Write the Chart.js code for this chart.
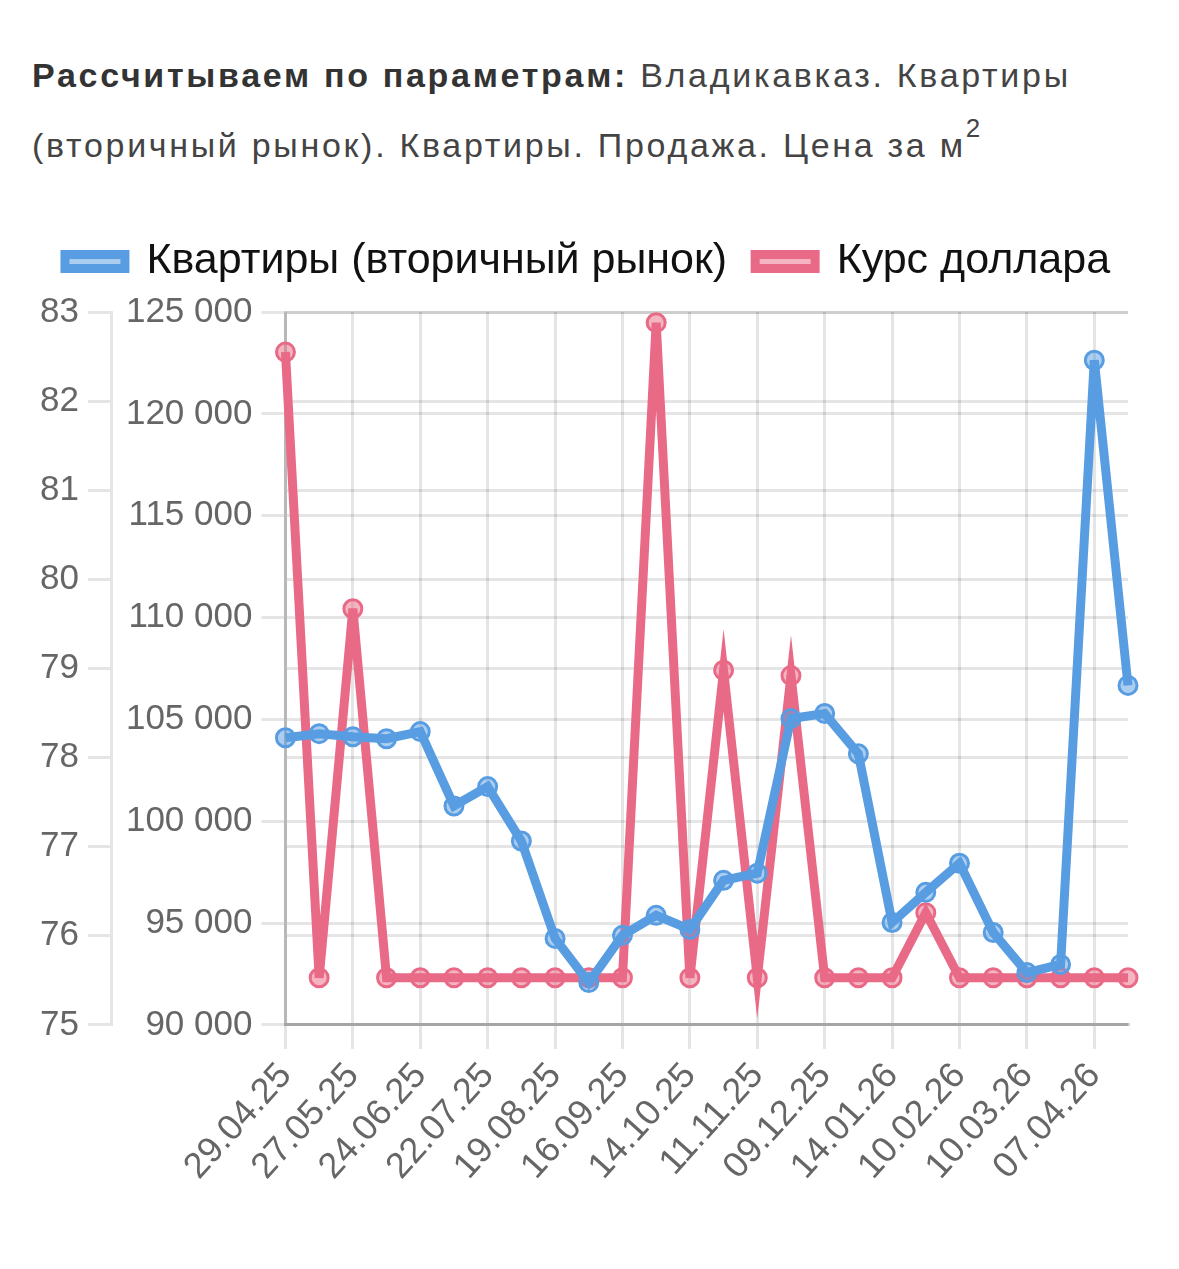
<!DOCTYPE html>
<html>
<head>
<meta charset="utf-8">
<script src="https://cdn.jsdelivr.net/npm/chart.js@4"></script>
<style>
  body { margin: 0; background: #fff; }
  #title {
    position: absolute; left: 32px; top: 40px; width: 1120px;
    font-family: 'Liberation Sans', Arial, sans-serif;
    font-size: 34px; line-height: 70px; color: #444; letter-spacing: 2.7px;
  }
  #title b { color: #333; }
  #title sup { font-size: 26px; line-height: 0; vertical-align: 20px; }
  #wrap { position: absolute; left: 20px; top: 212px; width: 1120px; height: 982px; }
</style>
</head>
<body>
<div id="title"><b>Рассчитываем по параметрам:</b> Владикавказ. Квартиры (вторичный рынок). Квартиры. Продажа. Цена за м<sup>2</sup></div>
<div id="wrap"><canvas id="myChart"></canvas></div>
<script>
// dates (every other one is shown on the axis)
var dates = ['29.04.25', '13.05.25', '27.05.25', '10.06.25', '24.06.25', '08.07.25', '22.07.25', '05.08.25',
  '19.08.25', '02.09.25', '16.09.25', '30.09.25', '14.10.25', '28.10.25', '11.11.25', '25.11.25',
  '09.12.25', '23.12.25', '14.01.26', '28.01.26', '10.02.26', '24.02.26', '10.03.26', '24.03.26',
  '07.04.26', '21.04.26']

// price per m2, secondary market
var flatPrice = [104100, 104300, 104150, 104050, 104400, 100750, 101700, 99030, 94250, 92080,
  94400, 95380, 94690, 97100, 97450, 105040, 105290, 103310, 95030, 96510,
  97940, 94540, 92570, 92970, 122630, 106670]

// dollar rate
var usdRate = [82.55, 75.53, 79.67, 75.53, 75.53, 75.53, 75.53, 75.53, 75.53, 75.53,
  75.53, 82.88, 75.53, 78.98, 75.53, 78.92, 75.53, 75.53, 75.53, 76.26,
  75.53, 75.53, 75.53, 75.53, 75.53, 75.53]

var priceTicks = [90000, 95000, 100000, 105000, 110000, 115000, 120000, 125000]
var rateTicks = [75, 76, 77, 78, 79, 80, 81, 82, 83]

var blue = 'rgb(88, 157, 226)'
var red = 'rgb(233, 106, 134)'
var tickFont = { family: "'Liberation Sans', Arial, sans-serif", size: 35 }

function fmt(v) {
  return String(v).replace(/\B(?=(\d{3})+(?!\d))/g, ' ')
}

// some extra room under the legend
var legendGap = {
  id: 'legendGap',
  beforeInit: function (chart) {
    var fit = chart.legend.fit
    chart.legend.fit = function () {
      fit.bind(chart.legend)()
      this.height += 19
    }
  }
}

var ctx = document.getElementById('myChart').getContext('2d')
var chart = new Chart(ctx, {
  type: 'line',
  data: {
    labels: dates,
    datasets: [{
      label: 'Квартиры (вторичный рынок)',
      data: flatPrice,
      yAxisID: 'y',
      borderColor: blue,
      backgroundColor: 'rgba(88, 157, 226, 0.5)',
      borderWidth: 9,
      pointRadius: 9,
      pointBorderWidth: 3,
      tension: 0
    }, {
      label: 'Курс доллара',
      data: usdRate,
      yAxisID: 'y1',
      borderColor: red,
      backgroundColor: 'rgba(233, 106, 134, 0.5)',
      borderWidth: 9,
      pointRadius: 9,
      pointBorderWidth: 3,
      tension: 0
    }]
  },
  options: {
    responsive: true,
    maintainAspectRatio: false,
    animation: false,
    layout: { padding: { left: 15, right: 0, top: 0, bottom: 0 } },
    plugins: {
      legend: {
        position: 'top',
        labels: {
          boxWidth: 60,
          boxHeight: 14,
          color: '#111',
          padding: 28,
          font: { family: "'Liberation Sans', Arial, sans-serif", size: 43 }
        }
      },
      tooltip: { enabled: false }
    },
    scales: {
      y1: {
        position: 'left',
        weight: 2,
        min: 75,
        max: 83,
        afterBuildTicks: function (axis) { axis.ticks = rateTicks.map(function (v) { return { value: v } }) },
        afterFit: function (axis) { axis.width -= 4 },
        ticks: { color: '#666', font: tickFont, padding: 9 },
        grid: { color: 'rgba(0,0,0,0.1)', lineWidth: 3, tickLength: 24 },
        border: { color: 'rgba(0,0,0,0.1)', width: 3 }
      },
      y: {
        position: 'left',
        weight: 0,
        min: 90000,
        max: 125000,
        afterBuildTicks: function (axis) { axis.ticks = priceTicks.map(function (v) { return { value: v } }) },
        afterFit: function (axis) { axis.width += 5 },
        ticks: { color: '#666', font: tickFont, padding: 9, callback: function (v) { return fmt(v) } },
        grid: { color: 'rgba(0,0,0,0.1)', lineWidth: 3, tickLength: 24 },
        border: { color: 'rgba(0,0,0,0.2)', width: 3 }
      },
      x: {
        offset: false,
        ticks: {
          color: '#666',
          font: { family: "'Liberation Sans', Arial, sans-serif", size: 36 },
          autoSkip: false,
          minRotation: 48,
          maxRotation: 48,
          padding: 6,
          callback: function (v, i) { return i % 2 ? null : dates[i] }
        },
        grid: { color: 'rgba(0,0,0,0.1)', lineWidth: 3, tickLength: 24 },
        border: { color: 'rgba(0,0,0,0.2)', width: 3 }
      }
    }
  },
  plugins: [legendGap]
})
</script>
</body>
</html>
